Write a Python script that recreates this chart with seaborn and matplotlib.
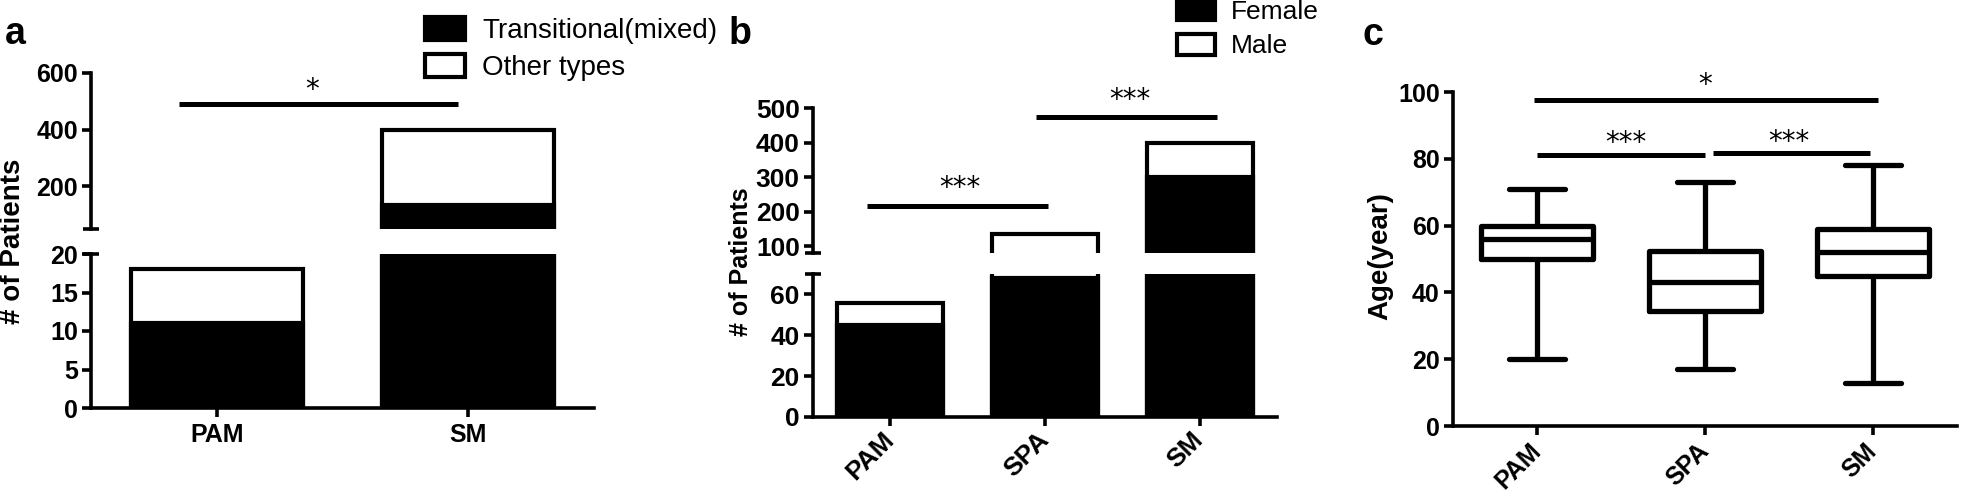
import numpy as np
import pandas as pd
import matplotlib
matplotlib.use("Agg")
import matplotlib.pyplot as plt
from matplotlib.patches import Patch
import seaborn as sns

# ---------------- data ----------------
a_groups = ["PAM", "SM"]
a_transitional = [11, 133]
a_other = [7, 267]
a_yticks_upper = [200, 400, 600]
a_yticks_lower = [0, 5, 10, 15, 20]

b_groups = ["PAM", "SPA", "SM"]
b_female = [45, 68, 300]
b_male = [11, 67, 100]
b_yticks_upper = [100, 200, 300, 400, 500]
b_yticks_lower = [0, 20, 40, 60]

c_groups = ["PAM", "SPA", "SM"]
c_min = [20, 17, 13]
c_q1 = [50, 34.5, 45]
c_median = [56, 43, 52]
c_q3 = [60, 52.5, 59]
c_max = [71, 73, 78]
c_yticks = [0, 20, 40, 60, 80, 100]

# ---------------- style ----------------
sns.set_style("ticks")
plt.rcParams["font.family"] = ["Liberation Sans", "DejaVu Sans"]
for k in ["text.color", "axes.labelcolor", "xtick.color", "ytick.color",
          "axes.edgecolor"]:
    plt.rcParams[k] = "black"
plt.rcParams["axes.linewidth"] = 2.6
plt.rcParams["xtick.major.width"] = 2.6
plt.rcParams["ytick.major.width"] = 2.6
plt.rcParams["xtick.major.size"] = 6.5
plt.rcParams["ytick.major.size"] = 6.5
plt.rcParams["xtick.direction"] = "out"
plt.rcParams["ytick.direction"] = "out"

W, H = 1961, 496
fig = plt.figure(figsize=(W / 100, H / 100), dpi=100)


def px_axes(x0, y_top, x1, y_bot):
    return fig.add_axes([x0 / W, 1 - y_bot / H, (x1 - x0) / W, (y_bot - y_top) / H])


LW = 3.0
BAR_W = 0.685
STAR_FONT = dict(family="DejaVu Sans", fontsize=20)


def stacked(ax, groups, bottom_vals, top_vals, width):
    df = pd.DataFrame({"g": groups,
                       "total": np.array(bottom_vals) + np.array(top_vals),
                       "bottom": bottom_vals})
    sns.barplot(data=df, x="g", y="total", order=groups, color="white",
                edgecolor="black", linewidth=LW, width=width, saturation=1,
                errorbar=None, ax=ax)
    sns.barplot(data=df, x="g", y="bottom", order=groups, color="black",
                edgecolor="black", linewidth=LW, width=width, saturation=1,
                errorbar=None, ax=ax)
    ax.set_xlabel("")
    ax.set_ylabel("")


def break_cap(ax, yfrac):
    pos = ax.get_position()
    dx = 8.0 / (pos.width * W)
    ax.plot([-dx, dx], [yfrac, yfrac], transform=ax.transAxes, color="black",
            lw=2.6, clip_on=False, solid_capstyle="butt")


def sig(ax, x0, x1, y, sx, sy, label):
    ax.plot([x0, x1], [y, y], color="black", lw=3.6, clip_on=False,
            solid_capstyle="butt")
    ax.annotate(label, xy=(sx, sy), xytext=(0, -11.5), textcoords="offset points",
                ha="center", va="baseline", annotation_clip=False, **STAR_FONT)


def style_upper(ax, ylim, yticks, fs):
    ax.set_ylim(*ylim)
    ax.set_yticks(yticks)
    ax.set_xticks([])
    for s in ["top", "right", "bottom"]:
        ax.spines[s].set_visible(False)
    for t in ax.get_yticklabels():
        t.set_fontweight("bold")
        t.set_fontsize(fs)
    ax.tick_params(axis="y", pad=3)
    ax.patch.set_alpha(0)


def style_lower(ax, ylim, yticks, fs, rot, xpad=4):
    ax.set_ylim(*ylim)
    ax.set_yticks(yticks)
    for s in ["top", "right"]:
        ax.spines[s].set_visible(False)
    ax.tick_params(axis="y", pad=3)
    ax.tick_params(axis="x", pad=xpad)
    for t in ax.get_yticklabels():
        t.set_fontweight("bold")
        t.set_fontsize(fs)
    for t in ax.get_xticklabels():
        t.set_fontweight("bold")
        t.set_fontsize(fs)
        if rot:
            t.set_rotation(rot)
            t.set_ha("right")
            t.set_va("center")
            t.set_rotation_mode("anchor")
    ax.patch.set_alpha(0)


# ---------------- panel a ----------------
ax_au = px_axes(91, 73, 594, 229)
ax_al = px_axes(91, 254, 594, 408)
for ax in (ax_au, ax_al):
    stacked(ax, a_groups, a_transitional, a_other, BAR_W)
    ax.set_xlim(-0.5, 1.5)
style_upper(ax_au, (50, 600), a_yticks_upper, 18)
style_lower(ax_al, (0, 20), a_yticks_lower, 18, 0)
break_cap(ax_au, 0.0)
break_cap(ax_al, 1.0)
sig(ax_au, -0.15, 0.96, 490, 0.38, 568, "*")
fig.legend(
    [Patch(facecolor="black", edgecolor="black", lw=LW),
     Patch(facecolor="white", edgecolor="black", lw=LW)],
    ["Transitional(mixed)", "Other types"],
    loc="upper left", bbox_to_anchor=(425 / W, 1 - 17 / H),
    bbox_transform=fig.transFigure, frameon=False, fontsize=20,
    handlelength=1.45, handleheight=0.9, handletextpad=0.6,
    labelspacing=0.35, borderpad=0, borderaxespad=0)
fig.text(13 / W, 1 - 241 / H, "# of Patients", rotation=90, ha="center",
         va="center", fontsize=20, fontweight="bold")
fig.text(5 / W, 1 - 44 / H, "a", fontsize=27, fontweight="bold", va="baseline")

# ---------------- panel b ----------------
ax_bu = px_axes(813, 108, 1277, 253)
ax_bl = px_axes(813, 274, 1277, 417)
for ax in (ax_bu, ax_bl):
    stacked(ax, b_groups, b_female, b_male, BAR_W)
    ax.set_xlim(-0.5, 2.5)
style_upper(ax_bu, (80, 500), b_yticks_upper, 19)
style_lower(ax_bl, (0, 70), b_yticks_lower, 19, 45, xpad=7)
break_cap(ax_bu, 0.0)
break_cap(ax_bl, 1.0)
sig(ax_bu, -0.15, 1.02, 216, 0.45, 291, "***")
sig(ax_bu, 0.945, 2.11, 474, 1.55, 546, "***")
fig.legend(
    [Patch(facecolor="black", edgecolor="black", lw=LW),
     Patch(facecolor="white", edgecolor="black", lw=LW)],
    ["Female", "Male"],
    loc="upper left", bbox_to_anchor=(1177 / W, 1 + 1 / H),
    bbox_transform=fig.transFigure, frameon=False, fontsize=19,
    handlelength=1.45, handleheight=0.85, handletextpad=0.6,
    labelspacing=0.38, borderpad=0, borderaxespad=0)
fig.text(741 / W, 1 - 262 / H, "# of Patients", rotation=90, ha="center",
         va="center", fontsize=18, fontweight="bold")
fig.text(729 / W, 1 - 44 / H, "b", fontsize=27, fontweight="bold", va="baseline")

# ---------------- panel c ----------------
ax_c = px_axes(1453, 92, 1957, 426)
rows = []
for g, a, b, m, d, e in zip(c_groups, c_min, c_q1, c_median, c_q3, c_max):
    for v in (a, b, m, d, e):
        rows.append({"g": g, "age": v})
df_c = pd.DataFrame(rows)
sns.boxplot(data=df_c, x="g", y="age", order=c_groups, whis=(0, 100),
            width=0.67, fill=False, color="black", linewidth=3.8, ax=ax_c)
ax_c.set_xlabel("")
ax_c.set_ylabel("")
ax_c.set_xlim(-0.5, 2.5)
style_lower(ax_c, (0, 100), c_yticks, 18, 45, xpad=9)
sig(ax_c, -0.02, 2.03, 97.6, 1.0, 104.5, "*")
sig(ax_c, 0.0, 1.0, 81.1, 0.53, 87.2, "***")
sig(ax_c, 1.05, 1.98, 81.7, 1.5, 87.5, "***")
fig.text(1380 / W, 1 - 256 / H, "Age(year)", rotation=90, ha="center",
         va="center", fontsize=20, fontweight="bold")
fig.text(1362 / W, 1 - 45 / H, "c", fontsize=27, fontweight="bold", va="baseline")

fig.savefig("out.png", dpi=100)
